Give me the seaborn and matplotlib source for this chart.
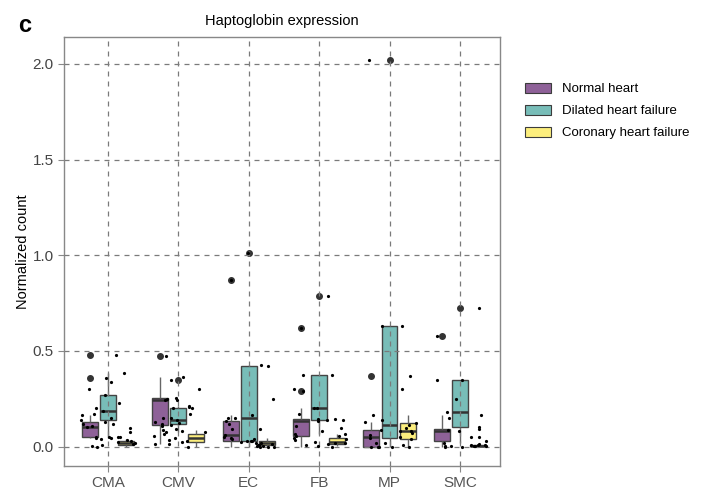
import numpy as np
import pandas as pd
import matplotlib
matplotlib.use("Agg")
import matplotlib.pyplot as plt
import seaborn as sns

cell_types = ["CMA", "CMV", "EC", "FB", "MP", "SMC"]
conditions = ["Normal heart", "Dilated heart failure", "Coronary heart failure"]
colors = ["#8E6198", "#78BDB8", "#FCEE7D"]

normal_heart = [
    [0.045, 0.048, 0.05, 0.052, 0.078, 0.095, 0.103, 0.11, 0.12, 0.127, 0.166, 0.357, 0.479],
    [0.012, 0.03, 0.08, 0.113, 0.15, 0.2, 0.244, 0.246, 0.25, 0.253, 0.3, 0.366, 0.474],
    [0.0, 0.005, 0.02, 0.028, 0.04, 0.05, 0.06, 0.09, 0.12, 0.136, 0.15, 0.165, 0.87],
    [0.0, 0.02, 0.04, 0.056, 0.08, 0.11, 0.136, 0.14, 0.142, 0.145, 0.204, 0.29, 0.62],
    [0.0, 0.0, 0.0, 0.02, 0.049, 0.07, 0.087, 0.13, 0.371],
    [0.0, 0.01, 0.03, 0.05, 0.08, 0.088, 0.092, 0.166, 0.578],
]
dilated_hf = [
    [0.045, 0.05, 0.12, 0.138, 0.15, 0.17, 0.186, 0.2, 0.23, 0.268, 0.3, 0.34, 0.385],
    [0.078, 0.09, 0.11, 0.117, 0.125, 0.13, 0.14, 0.15, 0.17, 0.2, 0.205, 0.21, 0.348],
    [0.0, 0.01, 0.03, 0.09, 0.152, 0.25, 0.42, 0.425, 1.01],
    [0.065, 0.1, 0.14, 0.17, 0.2, 0.3, 0.375, 0.375, 0.786],
    [0.0, 0.01, 0.047, 0.08, 0.113, 0.3, 0.63, 0.63, 2.02],
    [0.018, 0.05, 0.105, 0.15, 0.181, 0.25, 0.35, 0.35, 0.726],
]
coronary_hf = [
    [0.0, 0.005, 0.009, 0.012, 0.02, 0.024, 0.03, 0.035, 0.04],
    [0.0, 0.015, 0.023, 0.035, 0.044, 0.055, 0.065, 0.075, 0.087],
    [0.0, 0.004, 0.009, 0.014, 0.02, 0.025, 0.03, 0.038, 0.044],
    [0.003, 0.008, 0.014, 0.02, 0.026, 0.035, 0.044, 0.055, 0.068],
    [0.0, 0.02, 0.04, 0.06, 0.084, 0.1, 0.125, 0.14, 0.166],
    [0.0, 0.002, 0.003, 0.004, 0.005, 0.006, 0.007, 0.009, 0.012],
]

rows = []
for cond, series in zip(conditions, [normal_heart, dilated_hf, coronary_hf]):
    for ct, vals in zip(cell_types, series):
        for v in vals:
            rows.append({"cell": ct, "condition": cond, "value": v})
df = pd.DataFrame(rows)

plt.rcParams["font.family"] = ["Liberation Sans", "DejaVu Sans"]

fig = plt.figure(figsize=(7.06, 4.92), dpi=100)
ax = fig.add_axes([64 / 706, 1 - 466 / 492, 436 / 706, 429 / 492])

sns.boxplot(
    data=df, x="cell", y="value", hue="condition", order=cell_types,
    hue_order=conditions, palette=colors, width=0.77, gap=0.12,
    linecolor="#444444", linewidth=1.0, saturation=1,
    flierprops=dict(marker="o", markersize=4.0, markerfacecolor="#333333",
                    markeredgecolor="#333333"),
    medianprops=dict(linewidth=1.8, color="#333333"),
    whiskerprops=dict(color="#666666"),
    capprops=dict(linewidth=0), ax=ax,
)
np.random.seed(3)
sns.stripplot(data=df, x="cell", y="value", order=cell_types, color="black",
              jitter=0.4, size=2.3, linewidth=0, ax=ax, zorder=4)

ax.set_xlim(-0.625, 5.57)
ax.set_ylim(-0.101, 2.14)
ax.set_yticks([0.0, 0.5, 1.0, 1.5, 2.0])
ax.set_yticklabels(["0.0", "0.5", "1.0", "1.5", "2.0"])
ax.set_axisbelow(False)
ax.grid(True, linestyle=(0, (4, 4)), color="#7a7a7a", linewidth=0.9)
for s in ax.spines.values():
    s.set_color("#888888")
    s.set_linewidth(1.0)
ax.tick_params(axis="both", labelsize=11, colors="#888888", length=4,
               labelcolor="#444444")
ax.tick_params(axis="x", labelcolor="#555555")
ax.set_xlabel("")
ax.set_ylabel("Normalized count", fontsize=10.5, color="black", labelpad=2)
ax.set_title("Haptoglobin expression", fontsize=10.5, pad=9)

leg = ax.legend(loc="upper left", bbox_to_anchor=(525 / 706, 1 - 83 / 492),
                bbox_transform=fig.transFigure, frameon=False, fontsize=9.5,
                handlelength=2.0, handleheight=0.75, labelspacing=0.72,
                borderpad=0, borderaxespad=0, handletextpad=0.8, title=None)
for h in leg.legend_handles:
    h.set_edgecolor("#3c3c3c")
    h.set_linewidth(0.8)

fig.text(18 / 706, 1 - 25 / 492, "c", fontsize=17, fontweight="bold",
         va="center", ha="left")

fig.savefig("out.png", dpi=100)
